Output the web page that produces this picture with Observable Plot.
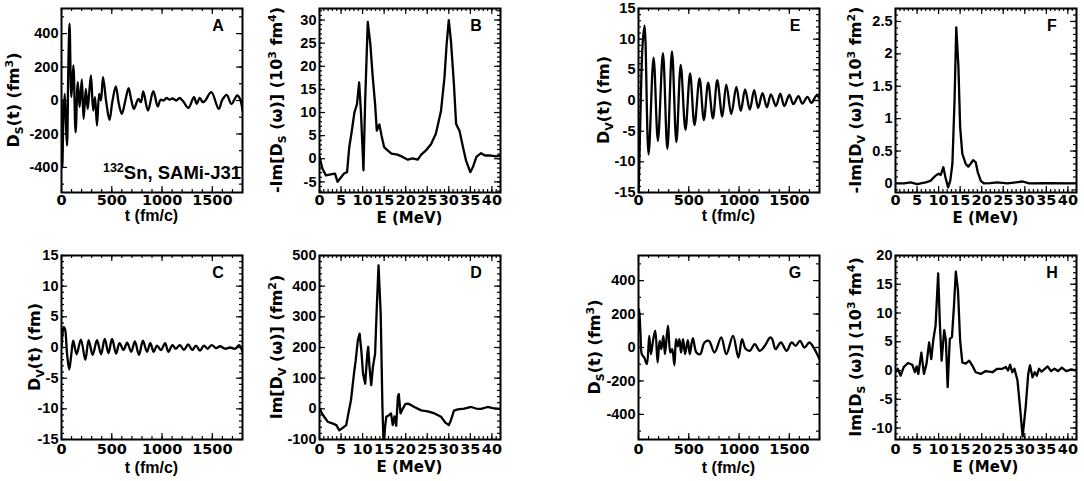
<!DOCTYPE html>
<html><head><meta charset="utf-8">
<script src="https://cdn.jsdelivr.net/npm/d3@7"></script>
<script src="https://cdn.jsdelivr.net/npm/@observablehq/plot@0.6"></script>
<style>
html,body{margin:0;padding:0;background:#fff;overflow:hidden;width:1084px;height:481px;}
#wrap{position:relative;width:1084px;height:481px;}
#wrap svg{position:absolute;}
</style></head><body><div id="wrap"></div>
<script>
// ---------- Data ----------
// Panel A: D_S(t) (fm^3), 132Sn
const aT = [0,8,20,32,45,55,68,80,98,118,140,162,180,202,220,242,260,275,293,315,333,353,375,392,413,445,477,505,540,570,600,635,667,695,720,765,790,813,860,913,957,985,1015,1045,1075,1105,1140,1175,1210,1263,1317,1345,1375,1405,1430,1490,1563,1600,1643,1690,1747,1775,1800];
const aV = [0,-400,-80,40,-150,-270,200,460,20,210,-190,110,-40,126,-110,70,-50,40,150,-60,20,-150,40,0,140,-10,-116,-10,84,-20,-80,0,74,0,-50,10,-10,54,-60,56,-36,5,0,15,5,12,0,15,-5,-44,20,-20,16,-10,0,50,-50,5,34,-20,30,10,-60];
// Panel B: -Im[D_S(w)] (10^3 fm^4)
const bE = [0,0.7,1.5,2.6,3.6,4.2,5,5.7,6.4,6.9,7.4,8.1,8.7,9.2,9.6,10.2,10.6,11.2,11.8,12.3,12.9,13.3,13.9,14.4,15,15.8,16.7,18.1,19.3,20.5,21.6,22.8,23.6,24.7,25.9,27,28.2,29,29.5,30,30.5,31.2,31.7,32.5,33.3,34,35,35.6,36.4,37.5,38.4,39.7,41,42];
const bV = [0.4,-2.2,-3.6,-3.4,-3.2,-5,-4,-3.2,-2.9,2.5,5.4,10,11.8,16.5,10.4,-2.5,12.6,29.6,24.8,18.3,11.8,6.1,7.4,5,2.5,1.8,1.1,0.9,0.4,-0.2,0.1,-0.2,0.9,1.8,3.2,5.4,10.4,17.6,24.8,30,25.5,16,7.5,6,2.5,-0.4,-2.9,-1.8,0.4,1.2,0.7,0.7,0.5,0.7];
// Panel C: D_V(t) (fm)
const cT = [0,10,20,33,55,77,97,117,150,193,237,270,310,353,393,430,467,503,543,577,617,653,693,730,770,810,850,883,917,950,990,1030,1063,1103,1137,1177,1217,1260,1300,1337,1377,1417,1453,1493,1537,1577,1627,1677,1727,1767,1800];
const cV = [0,2.1,3.3,3.1,-1,-3.6,-1.2,1.1,-1.1,1.3,-2.0,1.2,-1.2,1.2,-1.1,1.4,-0.9,1.4,-1.0,0.7,-0.4,0.8,-0.7,1.0,-1.2,1.1,-0.7,0.7,-0.7,0.3,-0.4,0.7,-0.7,0.4,-0.2,0.4,-0.4,0.5,-0.4,0.3,-0.5,0.3,-0.2,0.4,-0.1,0.2,-0.2,0,-0.2,0.4,-0.7];
// Panel D: Im[D_V(w)] (fm^2)
const dE = [0,0.8,1.9,3.1,3.9,4.6,5.4,6.2,6.7,7.3,8,8.4,8.9,9.3,9.7,10.1,10.6,11.1,11.3,11.6,12,12.4,12.9,13.3,13.7,14.2,14.6,14.9,15.2,15.5,16.2,16.6,17,17.4,17.8,18.2,18.4,18.8,19.3,19.9,20.5,21.3,22,23.6,25.1,26.7,28.2,29.2,30,30.5,31.2,32.1,33.6,35.2,36.3,37.5,39,40.2,42];
const dV = [0,-20,-42,-48,-53,-70,-62,-53,-15,28,115,158,224,245,191,115,82,180,202,137,77,137,180,332,468,310,7,-130,-60,-26,-20,-15,-53,-25,-55,40,48,-15,0,15,17,12,6,-5,-8,-15,-26,-45,-53,-37,-6,-2,1,6,1,0,6,2,0];
// Panel E: D_V(t) (fm)
const eT = [0,20,40,60,100,150,193,243,287,333,377,420,467,513,557,607,650,693,740,783,833,873,923,973,1017,1060,1107,1150,1190,1233,1277,1317,1367,1410,1450,1500,1540,1590,1630,1680,1720,1770,1800];
const eV = [-16,-2,9,12.2,-8.8,7.0,-6.6,7.7,-7.9,8.0,-6.8,5.8,-4.8,4.4,-4.0,3.6,-3.2,2.9,-2.9,3.3,-2.6,2.6,-2.2,2.2,-1.7,1.8,-1.5,1.7,-1.2,1.2,-1.1,1.0,-0.9,1.1,-0.9,0.9,-0.6,0.7,-0.5,0.6,-0.4,0.8,0.4];
// Panel F: -Im[D_V(w)] (10^3 fm^2)
const fE = [0,2,3.5,5,7,8.1,9.3,10,10.5,11.1,11.6,12.2,12.7,13.2,13.7,14.1,14.6,15,15.5,16.3,16.9,17.4,18,18.6,19.1,19.8,20.5,22,23.6,26,29.5,31,35,42];
const fV = [0,0,0.015,-0.01,0.015,0.04,0.12,0.15,0.13,0.25,0.09,-0.06,0.04,0.3,1.28,2.41,1.8,0.87,0.46,0.3,0.26,0.3,0.36,0.33,0.17,0.04,0,0.005,0.015,0,0.03,0,0.005,0];
// Panel G: D_S(t) (fm^3)
const gT = [0,7,20,33,57,83,107,123,147,167,190,210,227,247,263,293,317,335,357,373,390,407,423,443,463,490,510,540,576,613,656,700,756,823,873,940,993,1030,1063,1106,1156,1206,1256,1310,1330,1363,1416,1473,1523,1563,1606,1650,1700,1750,1800];
const gV = [100,230,80,-40,-60,-100,70,-40,50,100,-90,40,-10,70,-40,130,-30,-10,-106,50,6,50,-30,50,-40,44,-40,56,-30,-40,30,40,-30,60,-40,70,-60,50,-6,-20,20,-20,10,60,50,-10,30,-20,30,10,40,0,30,-10,-70];
// Panel H: Im[D_S(w)] (10^3 fm^4)
const hE = [0,0.5,1.2,1.9,2.9,3.9,4.5,4.9,5.3,6,6.6,7.2,7.8,8.3,8.8,9.3,9.9,10.3,10.7,11.3,11.7,12.1,12.6,13.1,13.6,14,14.5,15,15.5,16.3,17.1,17.8,18.6,19.8,20.9,22.5,23.6,24.8,25.6,26.1,26.6,27.1,27.6,28.3,28.9,29.5,30.2,30.8,31.2,31.8,32.3,32.8,33.3,33.9,34.5,35.3,36.1,36.9,37.7,38.6,39.6,40.8,42];
const hV = [-0.3,0.3,-0.9,0.6,1.3,1,-0.3,0.7,-0.6,3.1,-0.6,1.2,4.9,2,5.5,7.8,16.9,8.1,1.7,7,5.2,-2.9,5.5,5.8,11.6,17.2,13.9,5.2,1.4,1.2,1.7,0.9,-0.3,-0.6,-0.1,-0.3,0.3,0.3,0.6,0,1,-0.3,0.3,-1.7,-6.4,-11.5,-6.4,-0.6,0.9,-1.2,-0.3,-0.9,0.3,-0.2,0.2,0.7,-0.1,0.3,-0.1,0.5,-0.1,0.2,0];

// ---------- Ticks ----------
const tTicks = [0,500,1000,1500];
const eTicks = [0,5,10,15,20,25,30,35,40];
const dsTimeTicks = [-400,-200,0,200,400];
const dvTimeTicks = [-15,-10,-5,0,5,10,15];
const bTicks = [-5,0,5,10,15,20,25,30];
const dTicks = [-100,0,100,200,300,400,500];
const fTicks = [0,0.5,1,1.5,2,2.5];
const hTicks = [-10,-5,0,5,10,15,20];

const WIDE = "DejaVu Sans";
const NARROW = "Liberation Sans";
function fmtX(d){ return String(d); }
function fmtY(d){ return d < 0 ? "-" + (-d) : String(d); }

function panel(o){
  const ml=64, mr=8, mt=8, mb=44, iw=181, ih=184;
  const data = o.x.map((x,i)=>({x, y:o.y[i]}));
  const xMinor = d3.range(o.xDomain[0], o.xDomain[1]+1e-9, o.xMinorStep);
  const y0 = Math.ceil(o.yDomain[0]/o.yMinorStep)*o.yMinorStep;
  const yMinor = d3.range(y0, o.yDomain[1]+1e-9, o.yMinorStep);
  const st = {stroke:"#000", strokeWidth:1.2};
  const chart = Plot.plot({
    width: ml+iw+mr, height: mt+ih+mb,
    marginLeft: ml, marginRight: mr, marginTop: mt, marginBottom: mb,
    style: {fontFamily: WIDE, fontSize: "14.5px", fontWeight: "bold", background: "transparent", overflow: "visible", color: "#000"},
    x: {domain: o.xDomain}, y: {domain: o.yDomain},
    marks: [
      Plot.tickX(xMinor, {x: d=>d, insetTop: ih-3, ...st}),
      Plot.tickX(xMinor, {x: d=>d, insetBottom: ih-3, ...st}),
      Plot.tickX(o.xTicks, {x: d=>d, insetTop: ih-6, ...st}),
      Plot.tickX(o.xTicks, {x: d=>d, insetBottom: ih-6, ...st}),
      Plot.tickY(yMinor, {y: d=>d, insetRight: iw-3, ...st}),
      Plot.tickY(yMinor, {y: d=>d, insetLeft: iw-3, ...st}),
      Plot.tickY(o.yTicks, {y: d=>d, insetRight: iw-6, ...st}),
      Plot.tickY(o.yTicks, {y: d=>d, insetLeft: iw-6, ...st}),
      Plot.line(data, {x:"x", y:"y", curve: o.curve, stroke:"#000", strokeWidth: 2.3, clip: true}),
      Plot.frame({stroke:"#000", strokeWidth: 2}),
      Plot.axisX({ticks: o.xTicks, tickSize: 0, tickPadding: o.xPad, tickFormat: fmtX, label: null,
        fontFamily: WIDE, fontSize: 14.5, fontWeight: "bold"}),
      Plot.axisY({ticks: o.yTicks, tickSize: 0, tickPadding: 3, tickFormat: fmtY, label: null,
        fontFamily: NARROW, fontSize: 14.5, fontWeight: "bold"})
    ]
  });
  const svg = d3.select(chart);
  svg.style("left", (o.left - ml) + "px").style("top", (o.top - mt) + "px");
  svg.append("text").attr("x", ml+iw/2).attr("y", mt+ih+o.xtY)
    .attr("text-anchor","middle").attr("font-family", o.xtFont).attr("font-size", o.xtSize)
    .attr("font-weight","bold").text(o.xTitle);
  const cx = ml - o.ytOff, cy = mt + ih/2;
  const t = svg.append("text").attr("transform", `translate(${cx+5.5},${cy}) rotate(-90)`)
    .attr("text-anchor","middle").attr("font-family", WIDE).attr("font-size",16).attr("font-weight","bold");
  let shift = 0;
  for (const [s,k] of o.yTitle){
    const target = k==="sub" ? 4 : k==="sup" ? -6 : 0;
    t.append("tspan").attr("dy", target-shift).attr("font-size", k==="n" ? 16 : 11).text(s);
    shift = target;
  }
  svg.append("text").attr("x", ml+iw-24).attr("y", mt+23).attr("text-anchor","middle")
    .attr("font-family", NARROW).attr("font-size",16).attr("font-weight","bold").text(o.letter);
  if (o.note){
    const n = svg.append("text").attr("x", ml+iw-1).attr("y", mt+171).attr("text-anchor","end")
      .attr("font-family", NARROW).attr("font-weight","bold");
    n.append("tspan").attr("font-size",12.5).attr("dy",-7).text(o.note[0]);
    n.append("tspan").attr("font-size",18.5).attr("dy",7).text(o.note[1]);
  }
  document.getElementById("wrap").appendChild(chart);
}

const timeX = {xDomain:[0,1800], xTicks:tTicks, xMinorStep:100, xTitle:"t (fm/c)", xtFont: NARROW, xtSize: 16, curve:"catmull-rom"};
const enX = {xDomain:[0,42], xTicks:eTicks, xMinorStep:1, xTitle:"E (MeV)", xtFont: WIDE, xtSize: 15, curve:"linear"};
const tTop = {top:8, xPad:2, xtY:29};
const tBot = {top:255, xPad:4, xtY:34};
const eTop = {top:8, xPad:2, xtY:31};
const eBot = {top:255, xPad:4, xtY:33};

panel({...timeX, ...tTop, left:61, x:aT, y:aV, yDomain:[-550,550], yTicks:dsTimeTicks, yMinorStep:100, ytOff:48, letter:"A",
  yTitle:[["D","n"],["S","sub"],["(t) (fm","n"],["3","sup"],[")","n"]], note:["132","Sn, SAMi-J31"]});
panel({...enX, ...eTop, left:319, x:bE, y:bV, yDomain:[-7.3,32.5], yTicks:bTicks, yMinorStep:1, ytOff:43, letter:"B",
  yTitle:[["-Im[D","n"],["S","sub"],[" (ω)] (10","n"],["3","sup"],[" fm","n"],["4","sup"],[")","n"]]});
panel({...timeX, ...tTop, left:638, x:eT, y:eV, yDomain:[-15,15], yTicks:dvTimeTicks, yMinorStep:1, ytOff:35, letter:"E",
  yTitle:[["D","n"],["V","sub"],["(t) (fm)","n"]]});
panel({...enX, ...eTop, left:895, x:fE, y:fV, yDomain:[-0.14,2.7], yTicks:fTicks, yMinorStep:0.1, ytOff:40, letter:"F",
  yTitle:[["-Im[D","n"],["V","sub"],[" (ω)] (10","n"],["3","sup"],[" fm","n"],["2","sup"],[")","n"]]});
panel({...timeX, ...tBot, left:61, x:cT, y:cV, yDomain:[-15,15], yTicks:dvTimeTicks, yMinorStep:1, ytOff:27, letter:"C",
  yTitle:[["D","n"],["V","sub"],["(t) (fm)","n"]]});
panel({...enX, ...eBot, left:319, x:dE, y:dV, yDomain:[-100,500], yTicks:dTicks, yMinorStep:20, ytOff:43, letter:"D",
  yTitle:[["Im[D","n"],["V","sub"],[" (ω)] (fm","n"],["2","sup"],[")","n"]]});
panel({...timeX, ...tBot, left:638, x:gT, y:gV, yDomain:[-550,550], yTicks:dsTimeTicks, yMinorStep:100, ytOff:44, letter:"G",
  yTitle:[["D","n"],["S","sub"],["(t) (fm","n"],["3","sup"],[")","n"]]});
panel({...enX, ...eBot, left:895, x:hE, y:hV, yDomain:[-12,20], yTicks:hTicks, yMinorStep:1, ytOff:40, letter:"H",
  yTitle:[["Im[D","n"],["S","sub"],[" (ω)] (10","n"],["3","sup"],[" fm","n"],["4","sup"],[")","n"]]});
</script></body></html>
